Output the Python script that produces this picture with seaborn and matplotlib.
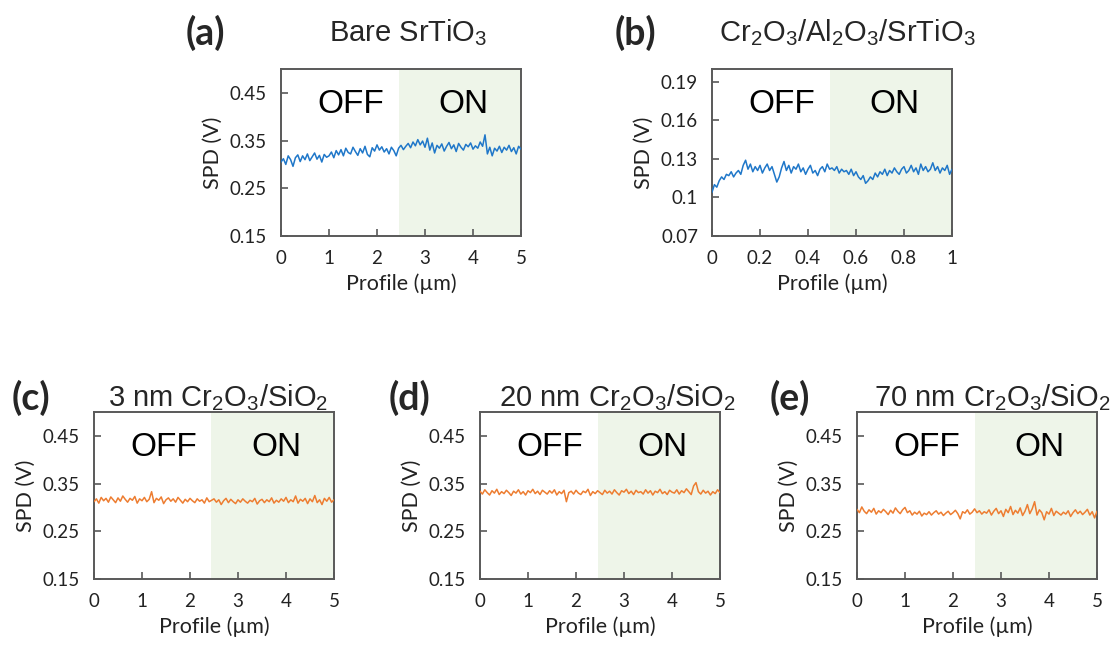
import numpy as np
import pandas as pd
import matplotlib
matplotlib.use("Agg")
import matplotlib.pyplot as plt
import seaborn as sns

# ---------------- data ----------------
x_a = np.linspace(0, 5, 101)
spd_a = [0.305,0.312,0.300,0.318,0.310,0.296,0.314,0.320,0.306,0.318,
         0.310,0.322,0.308,0.316,0.324,0.311,0.319,0.305,0.321,0.315,
         0.318,0.326,0.314,0.329,0.320,0.331,0.318,0.334,0.325,0.322,
         0.336,0.327,0.319,0.333,0.324,0.338,0.321,0.316,0.335,0.328,
         0.341,0.330,0.337,0.326,0.333,0.322,0.336,0.329,0.318,0.334,
         0.340,0.331,0.338,0.344,0.335,0.347,0.339,0.352,0.341,0.349,
         0.336,0.355,0.330,0.345,0.324,0.340,0.334,0.343,0.328,0.338,
         0.346,0.333,0.341,0.327,0.344,0.336,0.330,0.342,0.337,0.345,
         0.332,0.339,0.334,0.347,0.338,0.362,0.322,0.336,0.318,0.334,
         0.328,0.338,0.325,0.336,0.330,0.340,0.327,0.335,0.322,0.338,
         0.332]

x_b = np.linspace(0, 1, 101)
spd_b = [0.104,0.110,0.108,0.113,0.116,0.114,0.118,0.117,0.120,0.116,
         0.119,0.121,0.118,0.125,0.129,0.122,0.126,0.120,0.124,0.121,
         0.125,0.119,0.123,0.126,0.121,0.124,0.118,0.112,0.116,0.123,
         0.128,0.121,0.125,0.119,0.124,0.122,0.126,0.120,0.123,0.118,
         0.122,0.125,0.119,0.121,0.117,0.122,0.124,0.120,0.126,0.122,
         0.123,0.121,0.124,0.119,0.122,0.120,0.121,0.118,0.122,0.117,
         0.120,0.116,0.114,0.117,0.111,0.113,0.116,0.114,0.119,0.116,
         0.120,0.118,0.122,0.117,0.121,0.119,0.123,0.120,0.118,0.122,
         0.124,0.119,0.121,0.125,0.120,0.123,0.118,0.126,0.121,0.124,
         0.120,0.122,0.127,0.121,0.124,0.119,0.123,0.121,0.125,0.118,
         0.122]

x_c = np.linspace(0, 5, 101)
spd_c = [0.312,0.318,0.309,0.321,0.314,0.319,0.311,0.322,0.316,0.310,
         0.320,0.313,0.324,0.317,0.311,0.319,0.315,0.323,0.309,0.318,
         0.314,0.321,0.312,0.317,0.333,0.310,0.319,0.315,0.322,0.308,
         0.316,0.320,0.313,0.318,0.311,0.321,0.315,0.309,0.317,0.312,
         0.319,0.314,0.310,0.318,0.313,0.316,0.309,0.320,0.312,0.315,
         0.318,0.311,0.316,0.306,0.314,0.319,0.310,0.317,0.312,0.308,
         0.316,0.311,0.318,0.313,0.309,0.315,0.312,0.319,0.307,0.314,
         0.317,0.310,0.316,0.312,0.320,0.309,0.315,0.311,0.318,0.313,
         0.321,0.310,0.316,0.312,0.324,0.309,0.317,0.313,0.319,0.308,
         0.318,0.312,0.325,0.310,0.316,0.306,0.319,0.313,0.321,0.311,
         0.316]

x_d = np.linspace(0, 5, 101)
spd_d = [0.334,0.328,0.337,0.331,0.326,0.335,0.330,0.338,0.327,0.333,
         0.329,0.336,0.331,0.325,0.334,0.330,0.337,0.328,0.333,0.326,
         0.335,0.331,0.338,0.329,0.334,0.327,0.336,0.332,0.328,0.335,
         0.330,0.337,0.326,0.333,0.329,0.336,0.312,0.331,0.334,0.328,
         0.336,0.330,0.327,0.334,0.331,0.338,0.325,0.333,0.329,0.335,
         0.331,0.327,0.336,0.330,0.334,0.328,0.337,0.331,0.326,0.335,
         0.332,0.338,0.329,0.334,0.327,0.336,0.331,0.333,0.328,0.337,
         0.330,0.335,0.326,0.334,0.331,0.338,0.329,0.333,0.327,0.336,
         0.332,0.330,0.337,0.328,0.335,0.331,0.339,0.333,0.327,0.345,
         0.352,0.333,0.328,0.336,0.330,0.334,0.326,0.333,0.329,0.337,
         0.331]

x_e = np.linspace(0, 5, 101)
spd_e = [0.296,0.289,0.301,0.292,0.287,0.295,0.290,0.298,0.286,0.293,
         0.289,0.296,0.291,0.285,0.294,0.288,0.299,0.292,0.287,0.295,
         0.300,0.289,0.293,0.284,0.290,0.286,0.292,0.282,0.288,0.285,
         0.291,0.284,0.289,0.293,0.286,0.290,0.283,0.288,0.292,0.285,
         0.289,0.294,0.287,0.276,0.291,0.288,0.295,0.286,0.290,0.297,
         0.289,0.293,0.286,0.291,0.288,0.295,0.284,0.292,0.298,0.287,
         0.293,0.281,0.296,0.289,0.302,0.285,0.294,0.288,0.299,0.283,
         0.292,0.306,0.287,0.297,0.312,0.284,0.295,0.289,0.274,0.291,
         0.286,0.298,0.283,0.292,0.288,0.284,0.290,0.286,0.293,0.281,
         0.289,0.295,0.287,0.292,0.285,0.290,0.296,0.284,0.291,0.278,
         0.292]

panel_letters = ["(a)", "(b)", "(c)", "(d)", "(e)"]
panel_titles = [r"Bare SrTiO$_3$",
                r"Cr$_2$O$_3$/Al$_2$O$_3$/SrTiO$_3$",
                r"3 nm Cr$_2$O$_3$/SiO$_2$",
                r"20 nm Cr$_2$O$_3$/SiO$_2$",
                r"70 nm Cr$_2$O$_3$/SiO$_2$"]
on_start = [2.45, 0.49, 2.44, 2.45, 2.46]
xmax = [5, 1, 5, 5, 5]
ylims = [(0.15, 0.50), (0.07, 0.20), (0.15, 0.50), (0.15, 0.50), (0.15, 0.50)]
yticks_std = [0.15, 0.25, 0.35, 0.45]
yticks_b = [0.07, 0.10, 0.13, 0.16, 0.19]
ytick_labels_std = ["0.15", "0.25", "0.35", "0.45"]
ytick_labels_b = ["0.07", "0.1", "0.13", "0.16", "0.19"]
xticks_std = [0, 1, 2, 3, 4, 5]
xticks_b = [0, 0.2, 0.4, 0.6, 0.8, 1]
xtick_labels_b = ["0", "0.2", "0.4", "0.6", "0.8", "1"]

series = [(x_a, spd_a), (x_b, spd_b), (x_c, spd_c), (x_d, spd_d), (x_e, spd_e)]
colors = ["#1F77C9", "#1F77C9", "#ED7D31", "#ED7D31", "#ED7D31"]

# ---------------- style ----------------
sns.set_style("ticks")
plt.rcParams['font.family'] = ['Lato', 'DejaVu Sans']
plt.rcParams['mathtext.fontset'] = 'custom'
plt.rcParams['mathtext.rm'] = 'Liberation Sans'
plt.rcParams['mathtext.it'] = 'Liberation Sans:italic'
plt.rcParams['mathtext.bf'] = 'Liberation Sans:bold'

W, H = 1117, 645
fig = plt.figure(figsize=(W / 100, H / 100), dpi=100)

ax_px = [(281, 69), (712, 69), (94, 412), (480, 412), (857, 412)]
aw, ah = 240, 167
letter_x = [205, 635, 31, 410, 790]
title_x = [408, 847, 218, 617, 992]
title_y = [33, 33, 398, 398, 398]

spine_col = "#595959"
shade_col = "#EEF5E9"

for i in range(5):
    l, t = ax_px[i]
    ax = fig.add_axes([l / W, (H - t - ah) / H, aw / W, ah / H])
    xs, ys = series[i]
    df = pd.DataFrame({"Profile": xs, "SPD": ys})
    ax.axvspan(on_start[i], xmax[i], color=shade_col, zorder=0, lw=0)
    sns.lineplot(data=df, x="Profile", y="SPD", ax=ax, color=colors[i],
                 linewidth=1.1, zorder=3)
    ax.set_xlim(0, xmax[i])
    ax.set_ylim(*ylims[i])
    if i == 1:
        ax.set_yticks(yticks_b)
        ax.set_yticklabels(ytick_labels_b)
        ax.set_xticks(xticks_b)
        ax.set_xticklabels(xtick_labels_b)
    else:
        ax.set_yticks(yticks_std)
        ax.set_yticklabels(ytick_labels_std)
        ax.set_xticks(xticks_std)
    for s in ax.spines.values():
        s.set_visible(True)
        s.set_color(spine_col)
        s.set_linewidth(1.4)
    ax.tick_params(direction="in", length=5, width=1.2, color=spine_col,
                   labelsize=13.5, labelcolor="#222222", pad=10)
    ax.set_xlabel("Profile (µm)", fontsize=15.5, color="#222222", labelpad=5)
    ax.set_ylabel("SPD (V)", fontsize=15.5, color="#222222", labelpad=5)
    ax.text(0.29, 0.785, "OFF", transform=ax.transAxes, ha="center", va="center",
            fontsize=24, family="Liberation Sans", color="black", zorder=4)
    ax.text(0.76, 0.785, "ON", transform=ax.transAxes, ha="center", va="center",
            fontsize=24, family="Liberation Sans", color="black", zorder=4)
    fig.text(letter_x[i] / W, 1 - title_y[i] / H, panel_letters[i],
             ha="center", va="center", fontsize=27, fontweight="bold",
             family=["Lato", "DejaVu Sans"])
    fig.text(title_x[i] / W, 1 - title_y[i] / H, panel_titles[i],
             ha="center", va="center", fontsize=21, family="Liberation Sans")

fig.savefig("out.png", dpi=100)
